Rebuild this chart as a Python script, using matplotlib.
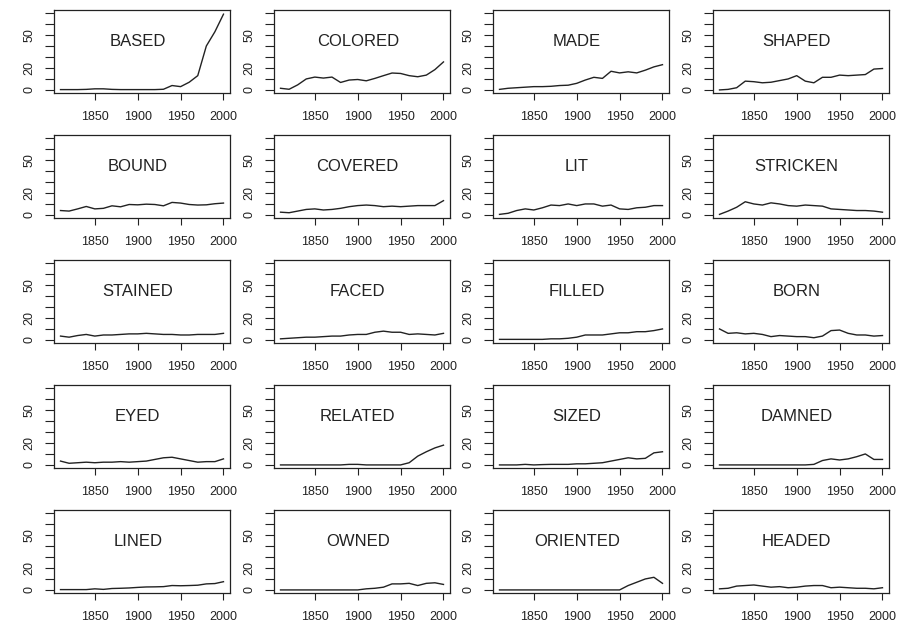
import matplotlib
matplotlib.use("Agg")
import matplotlib.pyplot as plt

plt.rcParams['font.family'] = ['Liberation Sans', 'DejaVu Sans']

years = list(range(1810, 2001, 10))

words = ["BASED", "COLORED", "MADE", "SHAPED",
         "BOUND", "COVERED", "LIT", "STRICKEN",
         "STAINED", "FACED", "FILLED", "BORN",
         "EYED", "RELATED", "SIZED", "DAMNED",
         "LINED", "OWNED", "ORIENTED", "HEADED"]

based    = [0.3, 0.3, 0.3, 0.5, 1, 1, 0.5, 0.3, 0.3, 0.3, 0.3, 0.3, 0.6, 4, 3, 7, 13, 40, 53, 69]
colored  = [1.5, 0.6, 4.6, 10, 11.7, 10.8, 11.7, 6.8, 9, 9.5, 8.3, 10.5, 13, 15.4, 15, 13, 12, 13.5, 18.5, 25.5]
made     = [0.5, 1.5, 2, 2.5, 3, 3, 3.3, 4, 4.3, 6, 9, 11.5, 10.5, 17, 15.5, 16.5, 15.5, 18, 21, 23]
shaped   = [0, 0.5, 2, 8, 7.5, 6.5, 7, 8.5, 10, 13, 8, 6.5, 11.5, 11.5, 13.5, 13, 13.5, 14, 19, 19.5]
bound    = [4, 3.5, 5.5, 7.7, 5.5, 6, 8.3, 7.4, 9.5, 9.2, 9.8, 9.5, 8.3, 11.4, 10.8, 9.5, 9, 9.2, 10.2, 10.8]
covered  = [2.5, 2, 3.5, 5, 5.5, 4.5, 5, 6, 7.5, 8.5, 9, 8.5, 7.5, 8, 7.5, 8, 8.5, 8.5, 8.5, 13]
lit      = [0.5, 1.5, 4, 5.5, 4.5, 6.5, 9, 8.5, 10, 8.5, 10, 10, 8, 9, 5.5, 5, 6.5, 7, 8.5, 8.5]
stricken = [0.5, 3.5, 7, 12, 10, 9, 11, 10, 8.5, 8, 9, 8.5, 8, 5.5, 5, 4.5, 4, 4, 3.5, 2.5]
stained  = [3.5, 2.5, 4, 5, 3.5, 4.5, 4.5, 5, 5.5, 5.5, 6, 5.5, 5, 5, 4.5, 4.5, 5, 5, 5, 6]
faced    = [1, 1.5, 2, 2.5, 2.5, 3, 3.5, 3.5, 4.5, 5, 5, 7, 8, 7, 7, 5, 5.5, 5, 4.5, 6]
filled   = [0.5, 0.5, 0.5, 0.5, 0.5, 0.5, 1, 1, 1.5, 2.5, 4.5, 4.5, 4.5, 5.5, 6.5, 6.5, 7.5, 7.5, 8.5, 10]
born     = [10, 6, 6.5, 5.5, 6, 5, 3, 4, 3.5, 3, 3, 2, 3.5, 8.5, 9, 6, 4.5, 4.5, 3.5, 4]
eyed     = [3.5, 1.5, 2, 2.5, 2, 2.5, 2.5, 3, 2.5, 3, 3.5, 5, 6.5, 7, 5.5, 4, 2.5, 3, 3, 5.5]
related  = [0, 0, 0, 0, 0, 0, 0, 0, 0.5, 0.5, 0, 0, 0, 0, 0, 2, 8, 12, 15.5, 18]
sized    = [0, 0, 0, 0.5, 0, 0.3, 0.5, 0.5, 0.5, 1, 1, 1.5, 2, 3.5, 5, 6.5, 5.5, 6, 11, 12]
damned   = [0, 0, 0, 0, 0, 0, 0, 0, 0, 0, 0, 0.5, 4, 5.5, 4.5, 5.5, 7.5, 10, 5, 5]
lined    = [0.3, 0.3, 0.3, 0.3, 1, 0.5, 1.3, 1.5, 1.8, 2.3, 2.7, 2.8, 3, 4, 3.8, 4, 4.3, 5.5, 5.8, 7.5]
owned    = [0, 0, 0, 0, 0, 0, 0, 0, 0, 0, 1, 1.5, 2.5, 5.5, 5.5, 6, 4, 6, 6.5, 5]
oriented = [0, 0, 0, 0, 0, 0, 0, 0, 0, 0, 0, 0, 0, 0, 0, 4, 7, 10, 11.5, 6]
headed   = [1, 1.5, 3.5, 4, 4.5, 3.5, 2.5, 3, 2, 2.5, 3.5, 4, 4, 2, 2.5, 2, 1.5, 1.5, 1, 2]

series = [based, colored, made, shaped, bound, covered, lit, stricken,
          stained, faced, filled, born, eyed, related, sized, damned,
          lined, owned, oriented, headed]

x_ticks = [1850, 1900, 1950, 2000]
y_ticks = [0, 10, 20, 30, 40, 50, 60, 70]
y_labels = ["0", "", "20", "", "", "50", "", ""]

W, H = 905, 623
fig = plt.figure(figsize=(W / 100, H / 100), dpi=100)

col_left = [54, 274, 493, 713]
row_top = [10, 135, 260, 385, 510]
bw, bh = 176, 83

for i, (word, vals) in enumerate(zip(words, series)):
    r, c = divmod(i, 4)
    ax = fig.add_axes([col_left[c] / W, 1 - (row_top[r] + bh) / H, bw / W, bh / H])
    ax.plot(years, vals, color='#222222', lw=1.0)
    ax.set_xlim(1802.4, 2007.6)
    ax.set_ylim(-2.8, 72.8)
    ax.text(1900, 44, word, ha='center', va='center', fontsize=12, color='#222222')
    ax.set_xticks(x_ticks)
    ax.set_xticklabels([str(t) for t in x_ticks])
    ax.set_yticks(y_ticks)
    ax.set_yticklabels(y_labels, rotation=90, va='center')
    ax.tick_params(axis='x', length=5.2, width=0.8, pad=8, labelsize=9, colors='#222222')
    ax.tick_params(axis='y', length=6.5, width=0.8, pad=7, labelsize=9, colors='#222222')
    for s in ax.spines.values():
        s.set_linewidth(0.9)
        s.set_color('#222222')

fig.savefig("out.png", dpi=100)
